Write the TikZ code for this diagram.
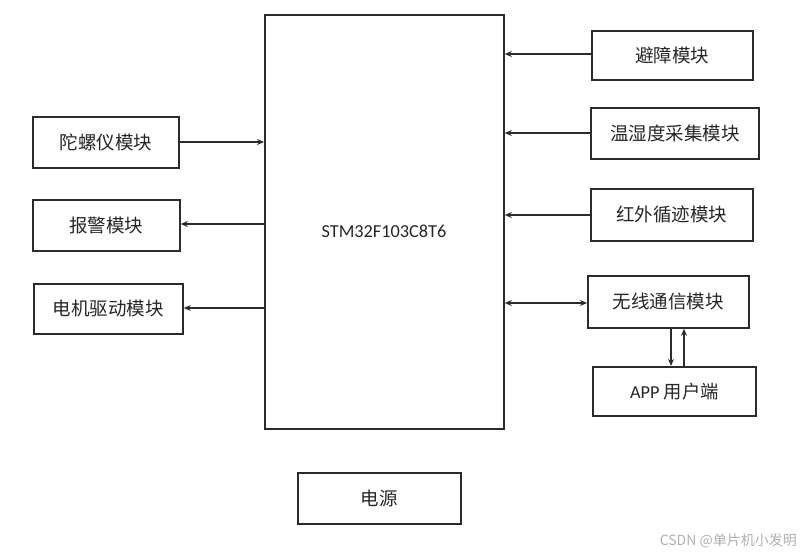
\documentclass[tikz,border=0pt]{standalone}
\usepackage{fontspec}
\setmainfont{Carlito}
\newfontfamily\cjk{Noto Sans CJK SC}
\usetikzlibrary{arrows.meta}
\definecolor{linec}{HTML}{2B2B2B}
\definecolor{textc}{HTML}{262626}
\definecolor{wmc}{HTML}{B0B0B0}
\tikzset{
  blk/.style={draw=linec, line width=1.8pt, inner sep=0pt, anchor=north west,
    text=textc, font=\fontsize{18.5}{21}\selectfont\cjk},
  arr/.style={draw=linec, line width=1.8pt, -{Stealth[length=7pt,width=6pt]}},
  darr/.style={draw=linec, line width=1.8pt, {Stealth[length=7pt,width=6pt]}-{Stealth[length=7pt,width=6pt]}}
}
\begin{document}
\begin{tikzpicture}[x=1pt,y=-1pt]
\useasboundingbox (0,0) rectangle (804,557);
% main MCU
\node[blk, minimum width=239pt, minimum height=414pt] (stm) at (264,14) {};
\node[text=textc, font=\fontsize{18.3}{21}\selectfont] (stmlbl) at (384,231) {STM32F103C8T6};
% right modules
\node[blk, minimum width=161pt, minimum height=49pt] (bz) at (591,30) {避障模块};
\node[blk, minimum width=168pt, minimum height=51pt] (wsd) at (590,107) {温湿度采集模块};
\node[blk, minimum width=162pt, minimum height=52pt] (hw) at (590,188) {红外循迹模块};
\node[blk, minimum width=161pt, minimum height=52pt] (wx) at (587,275) {无线通信模块};
\node[blk, minimum width=163pt, minimum height=49pt] (app) at (592,366) {\fontsize{18.3}{21}\selectfont\rmfamily APP\ \cjk 用户端};
% left modules
\node[blk, minimum width=146pt, minimum height=51pt] (tly) at (32,116) {陀螺仪模块};
\node[blk, minimum width=147pt, minimum height=51pt] (bj) at (32,199) {报警模块};
\node[blk, minimum width=149pt, minimum height=50pt] (dj) at (33,283) {电机驱动模块};
% power
\node[blk, minimum width=163pt, minimum height=51pt] (dy) at (297,472) {电源};
% connectors
\draw[arr] (bz.west |- 0,54) -- (stm.east |- 0,54);
\draw[arr] (wsd.west |- 0,133) -- (stm.east |- 0,133);
\draw[arr] (hw.west |- 0,215) -- (stm.east |- 0,215);
\draw[darr] (stm.east |- 0,303) -- (wx.west |- 0,303);
\draw[arr] (wx.south -| 671,0) -- (app.north -| 671,0);
\draw[arr] (app.north -| 684,0) -- (wx.south -| 684,0);
\draw[arr] (tly.east |- 0,142) -- (stm.west |- 0,142);
\draw[arr] (stm.west |- 0,224) -- (bj.east |- 0,224);
\draw[arr] (stm.west |- 0,308) -- (dj.east |- 0,308);
% watermark
\node[anchor=east, text=wmc, font=\fontsize{14}{16}\selectfont\cjk, inner sep=0pt] (wm) at (797,541) {CSDN @单片机小发明};
\end{tikzpicture}
\end{document}
